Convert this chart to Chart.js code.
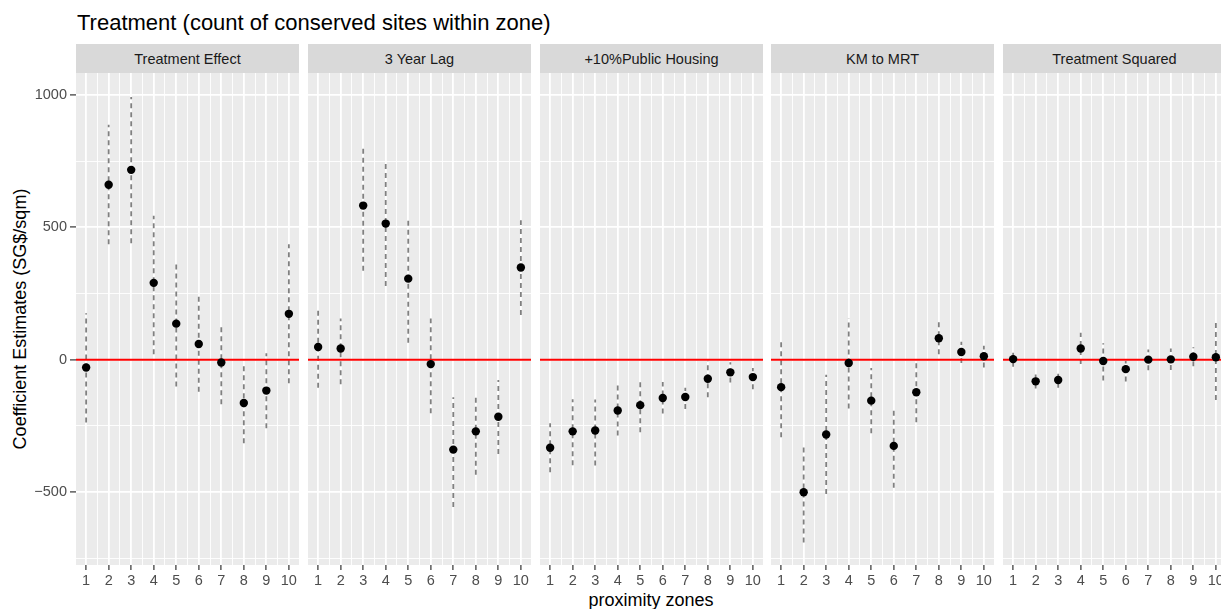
<!DOCTYPE html>
<html>
<head>
<meta charset="utf-8">
<script src="https://cdn.jsdelivr.net/npm/chart.js@4"></script>
<style>
  body { margin: 0; width: 1221px; height: 609px; overflow: hidden; background: #fff;
         font-family: "Liberation Sans", Arial, sans-serif; position: relative; }
  #title { position: absolute; left: 77px; top: 12px; font-size: 22px; line-height: 22px; color: #000; white-space: nowrap; }
  #ytitle { position: absolute; left: 20px; top: 319px; font-size: 18px; color: #000; white-space: nowrap;
            transform: translate(-50%, -50%) rotate(-90deg); }
  #xtitle { position: absolute; left: 651px; top: 600px; font-size: 18px; color: #000; white-space: nowrap;
            transform: translate(-50%, -50%); }
  .strip { position: absolute; top: 44px; height: 29px; width: 223px; background: #D9D9D9; color: #1A1A1A;
           font-size: 14.5px; display: flex; align-items: center; justify-content: center; white-space: nowrap; }
  .panel { position: absolute; top: 73px; }
</style>
</head>
<body>
<div id="title">Treatment (count of conserved sites within zone)</div>
<div id="ytitle">Coefficient Estimates (SG$/sqm)</div>
<div id="xtitle">proximity zones</div>
<script>
const zones = [1, 2, 3, 4, 5, 6, 7, 8, 9, 10];
const panelNames = ['Treatment Effect', '3 Year Lag', '+10%Public Housing', 'KM to MRT', 'Treatment Squared'];

// point estimates and interval ends
const treatEst = [-30, 661, 717, 290, 136, 59, -11, -164, -117, 173];
const treatLo  = [-238, 436, 440, 20, -102, -121, -169, -316, -259, -89];
const treatHi  = [175, 887, 992, 544, 368, 238, 134, -10, 24, 436];

const lagEst = [48, 42, 582, 514, 306, -17, -340, -271, -216, 348];
const lagLo  = [-106, -93, 336, 278, 64, -203, -557, -435, -357, 169];
const lagHi  = [196, 155, 807, 747, 535, 155, -142, -130, -77, 527];

const phEst = [-333, -271, -268, -192, -172, -145, -141, -72, -48, -66];
const phLo  = [-426, -399, -400, -287, -274, -204, -187, -142, -86, -112];
const phHi  = [-240, -150, -151, -97, -79, -85, -106, -4, -10, -32];

const kmEst = [-104, -501, -283, -13, -155, -326, -123, 81, 29, 13];
const kmLo  = [-293, -691, -508, -185, -278, -484, -237, 20, -13, -30];
const kmHi  = [66, -332, -57, 156, -32, -180, -9, 141, 68, 52];

const sqEst = [2, -82, -77, 42, -5, -36, 0, 1, 11, 9];
const sqLo  = [-27, -109, -106, -17, -79, -83, -40, -39, -25, -153];
const sqHi  = [33, -54, -46, 102, 62, -5, 38, 42, 47, 150];

const yTicks = [-750, -500, -250, 0, 250, 500, 750, 1000];
const xTicks = [1, 1.5, 2, 2.5, 3, 3.5, 4, 4.5, 5, 5.5, 6, 6.5, 7, 7.5, 8, 8.5, 9, 9.5, 10];

const panels = [
  [treatEst, treatLo, treatHi],
  [lagEst, lagLo, lagHi],
  [phEst, phLo, phHi],
  [kmEst, kmLo, kmHi],
  [sqEst, sqLo, sqHi]
];

Chart.defaults.font.family = '"Liberation Sans", Arial, sans-serif';

const panelBg = {
  id: 'panelBg',
  beforeDraw(chart) {
    const { ctx, chartArea: a } = chart;
    ctx.save();
    ctx.fillStyle = '#EBEBEB';
    ctx.fillRect(a.left, a.top, a.right - a.left, a.bottom - a.top);
    ctx.restore();
  }
};

const isMajorY = v => v % 500 === 0;
const noPad = s => { s.paddingTop = 0; s.paddingBottom = 0; s.paddingLeft = 0; s.paddingRight = 0; };

panels.forEach(([est, lo, hi], i) => {
  const left = Math.round(76 + i * 231.75);
  const yAxisW = i === 0 ? 70 : 0;

  const strip = document.createElement('div');
  strip.className = 'strip';
  strip.style.left = left + 'px';
  strip.textContent = panelNames[i];
  document.body.appendChild(strip);

  const wrap = document.createElement('div');
  wrap.className = 'panel';
  wrap.style.left = (left - yAxisW) + 'px';
  const canvas = document.createElement('canvas');
  canvas.width = 223 + yAxisW;
  canvas.height = 492 + 30;
  wrap.appendChild(canvas);
  document.body.appendChild(wrap);

  new Chart(canvas, {
    type: 'scatter',
    data: {
      datasets: [
        {
          type: 'scatter',
          data: zones.map((z, k) => ({ x: z, y: est[k] })),
          pointRadius: 4.2,
          pointBackgroundColor: '#000',
          pointBorderWidth: 0,
          order: 0
        },
        {
          type: 'line',
          data: [{ x: 0.55, y: 0 }, { x: 10.45, y: 0 }],
          borderColor: '#FF0000',
          borderWidth: 2,
          pointRadius: 0,
          order: 1
        },
        {
          type: 'line',
          data: zones.flatMap((z, k) => [{ x: z, y: lo[k] }, { x: z, y: hi[k] }, { x: z, y: null }]),
          borderColor: '#808080',
          borderWidth: 1.8,
          borderDash: [5, 4],
          pointRadius: 0,
          spanGaps: false,
          order: 2
        }
      ]
    },
    options: {
      responsive: false,
      animation: false,
      layout: { padding: 0, autoPadding: false },
      plugins: { legend: { display: false }, tooltip: { enabled: false } },
      scales: {
        x: {
          type: 'linear',
          min: 0.55,
          max: 10.45,
          afterBuildTicks: s => { s.ticks = xTicks.map(v => ({ value: v })); },
          afterFit: s => { s.height = 30; noPad(s); },
          border: { display: false },
          grid: {
            color: '#FFFFFF',
            lineWidth: c => Number.isInteger(c.tick.value) ? 1.8 : 0.9,
            tickColor: c => Number.isInteger(c.tick.value) ? '#333333' : 'rgba(0,0,0,0)',
            tickLength: 5,
            tickWidth: 1.2
          },
          ticks: {
            autoSkip: false,
            maxRotation: 0,
            padding: 2,
            color: '#4D4D4D',
            font: { size: 14.5 },
            callback: v => Number.isInteger(v) ? String(v) : ''
          }
        },
        y: {
          min: -776,
          max: 1083,
          afterBuildTicks: s => { s.ticks = yTicks.map(v => ({ value: v })); },
          afterFit: s => { s.width = yAxisW; noPad(s); },
          border: { display: false },
          grid: {
            color: '#FFFFFF',
            lineWidth: c => isMajorY(c.tick.value) ? 1.8 : 0.9,
            drawTicks: i === 0,
            tickColor: c => isMajorY(c.tick.value) ? '#333333' : 'rgba(0,0,0,0)',
            tickLength: 6,
            tickWidth: 1.2
          },
          ticks: {
            display: i === 0,
            padding: 3,
            color: '#4D4D4D',
            font: { size: 14.5 },
            callback: v => isMajorY(v) ? String(v).replace('-', '\u2212') : ''
          }
        }
      }
    },
    plugins: [panelBg]
  });
});
</script>
</body>
</html>
